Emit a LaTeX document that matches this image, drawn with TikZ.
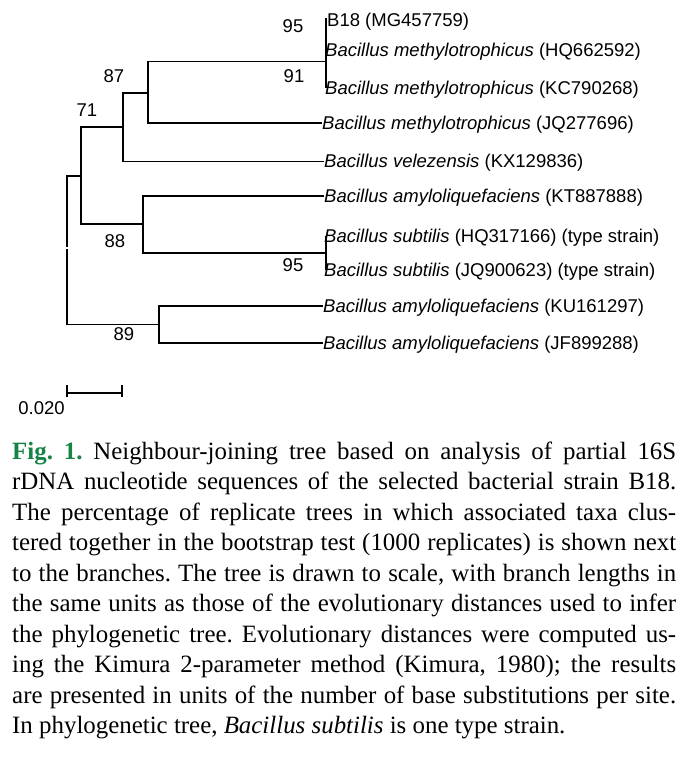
\documentclass[tikz,border=0pt]{standalone}
\usepackage{fontspec}
\setmainfont{Liberation Serif}
\newfontfamily\treefont{Liberation Sans}
\definecolor{figgreen}{RGB}{22,132,68}
\frenchspacing
\begin{document}
\frenchspacing
\begin{tikzpicture}[x=1pt,y=-1pt,
  branch/.style={line width=1.6pt},
  taxon/.style={anchor=base west,inner sep=0pt,font=\treefont\fontsize{18.5}{22}\selectfont},
  boot/.style={anchor=center,inner sep=0pt,font=\treefont\fontsize{18.5}{22}\selectfont},
  capline/.style={anchor=base west,inner sep=0pt,font=\fontsize{24.9}{30}\selectfont\frenchspacing}]
\useasboundingbox (0,0) rectangle (690,767);
% internal nodes
\coordinate (root) at (67,248);
\coordinate (nA) at (81,176);
\coordinate (n89) at (159,324.5);
\coordinate (n71) at (123,127);
\coordinate (n88) at (143,224);
\coordinate (n87) at (148,93);
\coordinate (n91) at (326,61.5);
\coordinate (n95) at (326,34);
\coordinate (nsub) at (326,253);
% tips
\coordinate (tB18) at (326,18);
\coordinate (tHQ66) at (326,50);
\coordinate (tKC) at (326,88.5);
\coordinate (tJQ27) at (322,123);
\coordinate (tvel) at (324,161.7);
\coordinate (tKT) at (324,196);
\coordinate (tHQ31) at (326,236);
\coordinate (tJQ90) at (326,270);
\coordinate (tKU) at (323,306);
\coordinate (tJF) at (323,343);
% branches
\draw[branch,shorten <=1pt] (root) |- (nA);
\draw[branch,shorten <=1pt] (root) |- (n89);
\draw[branch] (nA) |- (n71);
\draw[branch] (nA) |- (n88);
\draw[branch] (n71) |- (n87);
\draw[branch] (n71) |- (tvel);
\draw[branch] (n87) |- (n91);
\draw[branch] (n87) |- (tJQ27);
\draw[branch] (n91) |- (n95);
\draw[branch] (n91) |- (tKC);
\draw[branch] (n95) |- (tB18);
\draw[branch] (n95) |- (tHQ66);
\draw[branch] (n88) |- (tKT);
\draw[branch] (n88) |- (nsub);
\draw[branch] (nsub) |- (tHQ31);
\draw[branch] (nsub) |- (tJQ90);
\draw[branch] (n89) |- (tKU);
\draw[branch] (n89) |- (tJF);
% taxa
\node[taxon] (lB18) at (327,26.7) {B18 (MG457759)};
\node[taxon] (lHQ66) at (325,57) {\textit{Bacillus methylotrophicus} (HQ662592)};
\node[taxon] (lKC) at (325,95) {\textit{Bacillus methylotrophicus} (KC790268)};
\node[taxon] (lJQ27) at (322,129.5) {\textit{Bacillus methylotrophicus} (JQ277696)};
\node[taxon] (lvel) at (324,168) {\textit{Bacillus velezensis} (KX129836)};
\node[taxon] (lKT) at (324,202.5) {\textit{Bacillus amyloliquefaciens} (KT887888)};
\node[taxon] (lHQ31) at (324,242.5) {\textit{Bacillus subtilis} (HQ317166) (type strain)};
\node[taxon] (lJQ90) at (324,276.5) {\textit{Bacillus subtilis} (JQ900623) (type strain)};
\node[taxon] (lKU) at (323,312.5) {\textit{Bacillus amyloliquefaciens} (KU161297)};
\node[taxon] (lJF) at (323,349.5) {\textit{Bacillus amyloliquefaciens} (JF899288)};
% bootstrap values
\node[boot] (b95a) at (293,26) {95};
\node[boot] (b91) at (294,76) {91};
\node[boot] (b87) at (114,76) {87};
\node[boot] (b71) at (87,110) {71};
\node[boot] (b88) at (115,241) {88};
\node[boot] (b95b) at (293,265) {95};
\node[boot] (b89) at (124,334) {89};
% scale bar
\coordinate (sb1) at (67,393);
\coordinate (sb2) at (122,393);
\draw[branch] (sb1) -- (sb2);
\draw[branch] ([yshift=8pt]sb1) -- ([yshift=-4pt]sb1);
\draw[branch] ([yshift=8pt]sb2) -- ([yshift=-4pt]sb2);
\node[boot] (sblab) at (41.5,408.5) {0.020};
% caption
\node[capline] (c1) at (12,459) {\makebox[664pt][s]{\textcolor{figgreen}{\textbf{Fig. 1.}} Neighbour-joining tree based on analysis of partial 16S}};
\node[capline] (c2) at (12,489.55) {\makebox[664pt][s]{rDNA nucleotide sequences of the selected bacterial strain B18.}};
\node[capline] (c3) at (12,520.1) {\makebox[664pt][s]{The percentage of replicate trees in which associated taxa clus-}};
\node[capline] (c4) at (12,550.65) {\makebox[664pt][s]{tered together in the bootstrap test (1000 replicates) is shown next}};
\node[capline] (c5) at (12,581.2) {\makebox[664pt][s]{to the branches. The tree is drawn to scale, with branch lengths in}};
\node[capline] (c6) at (12,611.75) {\makebox[664pt][s]{the same units as those of the evolutionary distances used to infer}};
\node[capline] (c7) at (12,642.3) {\makebox[664pt][s]{the phylogenetic tree. Evolutionary distances were computed us-}};
\node[capline] (c8) at (12,672.85) {\makebox[664pt][s]{ing the Kimura 2-parameter method (Kimura, 1980); the results}};
\node[capline] (c9) at (12,703.4) {\makebox[664pt][s]{are presented in units of the number of base substitutions per site.}};
\node[capline] (c10) at (12,733.95) {In phylogenetic tree, \textit{Bacillus subtilis} is one type strain.};
\end{tikzpicture}
\end{document}
